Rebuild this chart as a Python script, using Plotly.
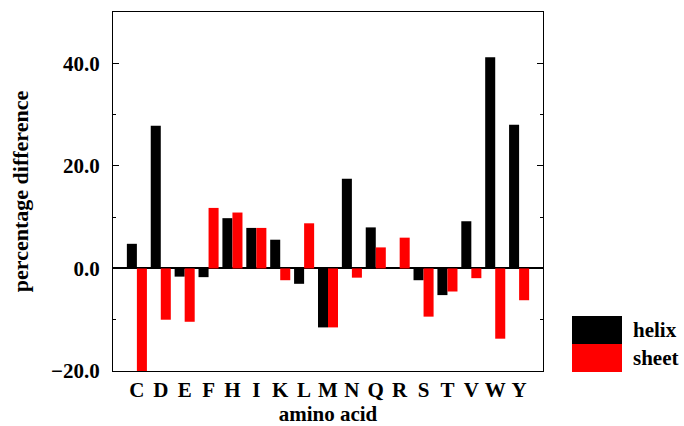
import plotly.graph_objects as go

amino_acids = ["C", "D", "E", "F", "H", "I", "K", "L", "M", "N", "Q", "R", "S", "T", "V", "W", "Y"]
helix = [4.8, 27.8, -1.6, -1.7, 9.8, 7.9, 5.6, -3.0, -11.5, 17.5, 8.0, 0.0, -2.3, -5.2, 9.2, 41.2, 28.0]
sheet = [-21.0, -10.0, -10.4, 11.8, 10.9, 7.9, -2.3, 8.8, -11.5, -1.8, 4.1, 6.0, -9.4, -4.5, -1.9, -13.7, -6.2]
y_ticks = [-20, 0, 20, 40]

FONT = "Liberation Serif"

fig = go.Figure()
fig.add_trace(go.Bar(x=amino_acids, y=helix, name="helix", marker=dict(color="black", line=dict(width=0))))
fig.add_trace(go.Bar(x=amino_acids, y=sheet, name="sheet", marker=dict(color="#ff0000", line=dict(width=0))))

fig.update_layout(
    width=684, height=426,
    margin=dict(l=113, r=141, t=12, b=55),
    plot_bgcolor="white", paper_bgcolor="white",
    barmode="group", bargap=0.16, bargroupgap=0,
    showlegend=False,
    font=dict(family=FONT, color="black"),
    xaxis=dict(
        range=[-1, 17], showgrid=False, zeroline=False, automargin=False,
        tickmode="array", tickvals=amino_acids, ticktext=amino_acids,
        showline=True, linecolor="black", linewidth=1, mirror=True,
        ticks="", tickfont=dict(family=FONT, size=21, color="black", weight="bold"),
        ticklabelstandoff=0,
        title=dict(text="<b>amino acid</b>", font=dict(family=FONT, size=21), standoff=1),
    ),
    yaxis=dict(
        range=[-20, 50], showgrid=False, automargin=False,
        zeroline=True, zerolinecolor="black", zerolinewidth=1.5,
        showline=True, linecolor="black", linewidth=1, mirror="ticks",
        tickvals=y_ticks, tickformat=".1f",
        ticks="inside", ticklen=6, tickcolor="black", tickwidth=1,
        minor=dict(tickvals=[-10, 10, 30], ticks="inside", ticklen=3, tickcolor="black", tickwidth=1),
        tickfont=dict(family=FONT, size=21, color="black", weight="bold"),
        ticklabelstandoff=8,
        title=dict(text="<b>percentage difference</b>", font=dict(family=FONT, size=22), standoff=16),
    ),
)

# legend drawn as boxes + labels
fig.add_shape(type="rect", xref="paper", yref="paper", x0=(572-113)/430, x1=(622-113)/430,
              y0=(371-344)/359, y1=(371-316)/359, fillcolor="black", line=dict(width=0))
fig.add_shape(type="rect", xref="paper", yref="paper", x0=(572-113)/430, x1=(622-113)/430,
              y0=(371-372)/359, y1=(371-344)/359, fillcolor="#ff0000", line=dict(width=0))
fig.add_annotation(xref="paper", yref="paper", x=(631-113)/430, y=(371-330)/359, xanchor="left", yanchor="middle",
                   text="<b>helix</b>", showarrow=False, font=dict(family=FONT, size=21, color="black"))
fig.add_annotation(xref="paper", yref="paper", x=(631-113)/430, y=(371-358)/359, xanchor="left", yanchor="middle",
                   text="<b>sheet</b>", showarrow=False, font=dict(family=FONT, size=21, color="black"))

fig.write_html("out.html")
